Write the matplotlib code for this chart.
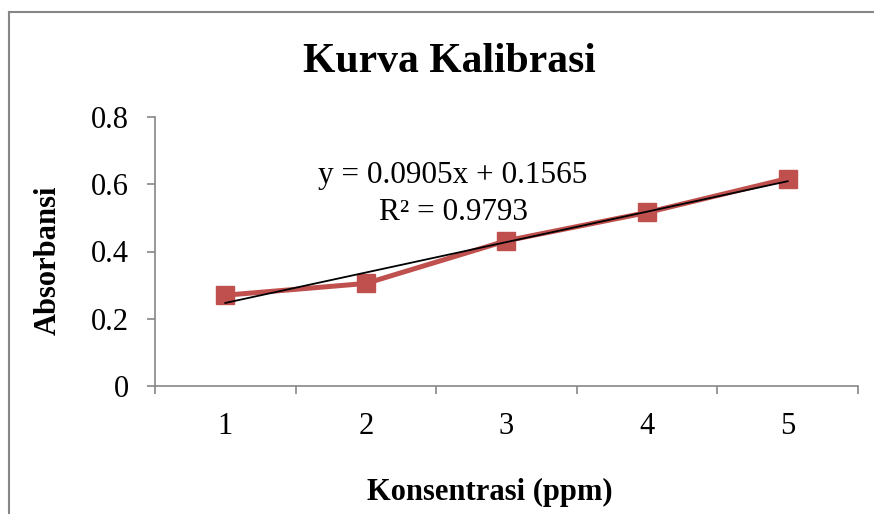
import numpy as np
import matplotlib
matplotlib.use("Agg")
import matplotlib.pyplot as plt
from matplotlib.lines import Line2D

categories = [1, 2, 3, 4, 5]
absorbansi = [0.270, 0.305, 0.432, 0.516, 0.617]
y_ticks = [0, 0.2, 0.4, 0.6, 0.8]
y_tick_labels = ["0", "0.2", "0.4", "0.6", "0.8"]
title = "Kurva Kalibrasi"
xlabel = "Konsentrasi (ppm)"
ylabel = "Absorbansi"
eq_text = "y = 0.0905x + 0.1565\nR² = 0.9793"

plt.rcParams['font.family'] = ['Liberation Serif', 'DejaVu Serif']

W, H = 874, 514
fig = plt.figure(figsize=(W / 100, H / 100), dpi=100)
ax = fig.add_axes([155 / W, 1 - 386 / H, (858 - 155) / W, (386 - 117) / H])

x = np.array(categories, dtype=float)
y = np.array(absorbansi)

ax.plot(x, y, color="#C0504D", lw=3.6, marker="s", ms=13, zorder=3)
coef = np.polyfit(x, y, 1)
xt = np.array([x.min(), x.max()])
ax.plot(xt, np.polyval(coef, xt), color="black", lw=1.3, zorder=4)

ax.set_xlim(0.5, 5.5)
ax.set_ylim(0, 0.8)
ax.set_yticks(y_ticks)
ax.set_yticklabels(y_tick_labels)
ax.set_xticks(categories)
ax.set_xticklabels([str(c) for c in categories])
ax.set_xticks(np.arange(0.5, 5.6, 1.0), minor=True)
ax.tick_params(axis="x", which="major", length=0, pad=19, labelsize=22)
ax.tick_params(axis="x", which="minor", length=6, width=1.2, color="#868686", direction="out")
ax.tick_params(axis="y", which="major", length=6, width=1.2, color="#868686", pad=13, labelsize=22)

for s in ["top", "right"]:
    ax.spines[s].set_visible(False)
for s in ["left", "bottom"]:
    ax.spines[s].set_color("#868686")
    ax.spines[s].set_linewidth(1.2)

ax.text(2.62, 0.572, eq_text, ha="center", va="center", fontsize=22.5,
        linespacing=1.35, zorder=5)

fig.text(449 / W, 1 - 62 / H, title, ha="center", va="center",
         fontsize=30, fontweight="bold")
fig.text(490 / W, 1 - 492 / H, xlabel, ha="center", va="center",
         fontsize=22, fontweight="bold")
fig.text(48 / W, 1 - 260 / H, ylabel, ha="center", va="center",
         fontsize=22, fontweight="bold", rotation=90)

fig.add_artist(Line2D([9 / W, 9 / W], [0, 1 - 12 / H], transform=fig.transFigure,
                      color="#868686", lw=1.5))
fig.add_artist(Line2D([9 / W, 1], [1 - 12 / H, 1 - 12 / H], transform=fig.transFigure,
                      color="#868686", lw=1.5))

fig.savefig("out.png", dpi=100)
